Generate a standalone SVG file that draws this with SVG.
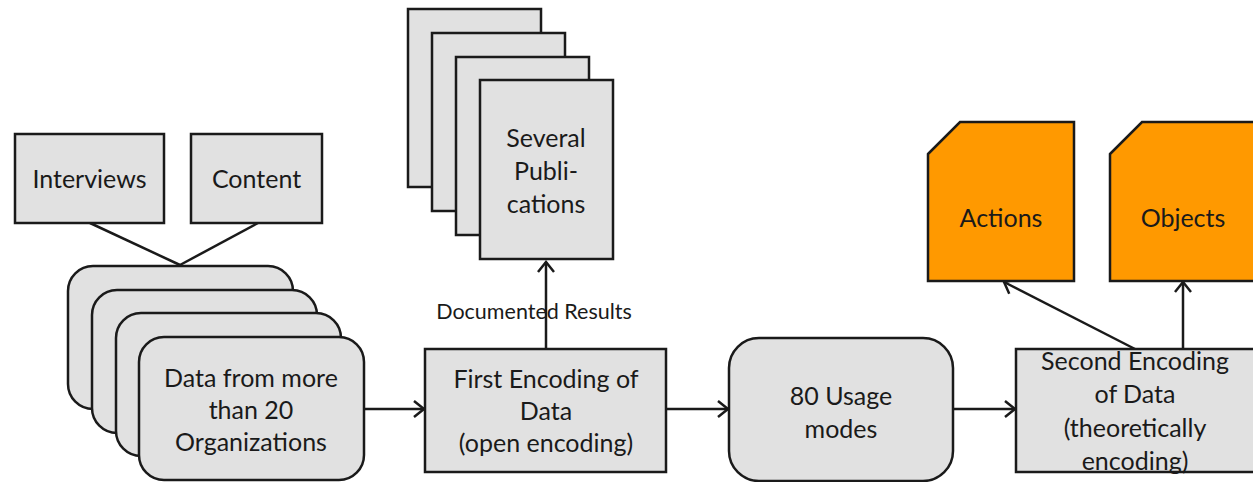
<svg xmlns="http://www.w3.org/2000/svg" width="1253" height="482" viewBox="0 0 1253 482">
  <style>
    .box { fill: #e1e1e1; stroke: #1a1a1a; stroke-width: 2.5; }
    .tag { fill: #ff9900; stroke: #1a1a1a; stroke-width: 2.5; }
    .lbl { font-family: Lato, "Liberation Sans", sans-serif; font-size: 25px; fill: #1a1a1a; text-anchor: middle; }
    .small { font-family: Lato, "Liberation Sans", sans-serif; font-size: 21.5px; fill: #1a1a1a; text-anchor: middle; }
    .wire { fill: none; stroke: #1a1a1a; stroke-width: 2.5; }
    .arrow { fill: none; stroke: #1a1a1a; stroke-width: 2.5; marker-end: url(#chev); }
  </style>
  <defs>
    <marker id="chev" markerUnits="userSpaceOnUse" markerWidth="20" markerHeight="20" viewBox="-12 -10 14 20" refX="0" refY="0" orient="auto">
      <path d="M-10,-8 L0,0 L-10,8" fill="none" stroke="#1a1a1a" stroke-width="2.5"/>
    </marker>
  </defs>

  <rect width="1253" height="482" fill="#ffffff"/>

  <g id="connectors">
    <line class="wire" x1="90" y1="223" x2="180" y2="265"/>
    <line class="wire" x1="258" y1="223" x2="180" y2="265"/>
    <line class="arrow" x1="363" y1="409" x2="424" y2="409"/>
    <line class="arrow" x1="546" y1="349" x2="546" y2="262"/>
    <line class="arrow" x1="666" y1="409" x2="728" y2="409"/>
    <line class="arrow" x1="953" y1="409" x2="1015" y2="409"/>
    <line class="arrow" x1="1135" y1="349" x2="1004" y2="282"/>
    <line class="arrow" x1="1183" y1="349" x2="1183" y2="282"/>
    <text class="small" x="534" y="319">Documented Results</text>
  </g>

  <g id="interviews">
    <rect class="box" x="15" y="134" width="149" height="89"/>
    <text class="lbl" x="89.5" y="188">Interviews</text>
  </g>

  <g id="content">
    <rect class="box" x="191" y="134" width="131" height="89"/>
    <text class="lbl" x="256.5" y="188">Content</text>
  </g>

  <g id="organizations">
    <rect class="box" x="68" y="266" width="225" height="143" rx="25"/>
    <rect class="box" x="92" y="290" width="225" height="143" rx="25"/>
    <rect class="box" x="116" y="313" width="225" height="143" rx="25"/>
    <rect class="box" x="139" y="337" width="225" height="143" rx="25"/>
    <text class="lbl" x="251" y="387">Data from more</text>
    <text class="lbl" x="251" y="419">than 20</text>
    <text class="lbl" x="251" y="451">Organizations</text>
  </g>

  <g id="publications">
    <rect class="box" x="408" y="9" width="133" height="178"/>
    <rect class="box" x="432" y="33" width="133" height="178"/>
    <rect class="box" x="456" y="57" width="133" height="178"/>
    <rect class="box" x="480" y="80" width="133" height="179"/>
    <text class="lbl" x="546" y="147">Several</text>
    <text class="lbl" x="546" y="180">Publi-</text>
    <text class="lbl" x="546" y="213">cations</text>
  </g>

  <g id="first-encoding">
    <rect class="box" x="425" y="349" width="241" height="123"/>
    <text class="lbl" x="546" y="388">First Encoding of</text>
    <text class="lbl" x="546" y="420">Data</text>
    <text class="lbl" x="546" y="452">(open encoding)</text>
  </g>

  <g id="usage-modes">
    <rect class="box" x="729" y="338" width="224" height="143" rx="30"/>
    <text class="lbl" x="841" y="405">80 Usage</text>
    <text class="lbl" x="841" y="438">modes</text>
  </g>

  <g id="second-encoding">
    <rect class="box" x="1016" y="349" width="240" height="123"/>
    <text class="lbl" x="1135" y="370">Second Encoding</text>
    <text class="lbl" x="1135" y="403">of Data</text>
    <text class="lbl" x="1135" y="437">(theoretically</text>
    <text class="lbl" x="1135" y="470">encoding)</text>
  </g>

  <g id="actions">
    <path class="tag" d="M928,154 L960,122 L1074,122 L1074,281 L928,281 Z"/>
    <text class="lbl" x="1001" y="227">Actions</text>
  </g>

  <g id="objects">
    <path class="tag" d="M1110,154 L1142,122 L1256,122 L1256,281 L1110,281 Z"/>
    <text class="lbl" x="1183" y="227">Objects</text>
  </g>
</svg>
